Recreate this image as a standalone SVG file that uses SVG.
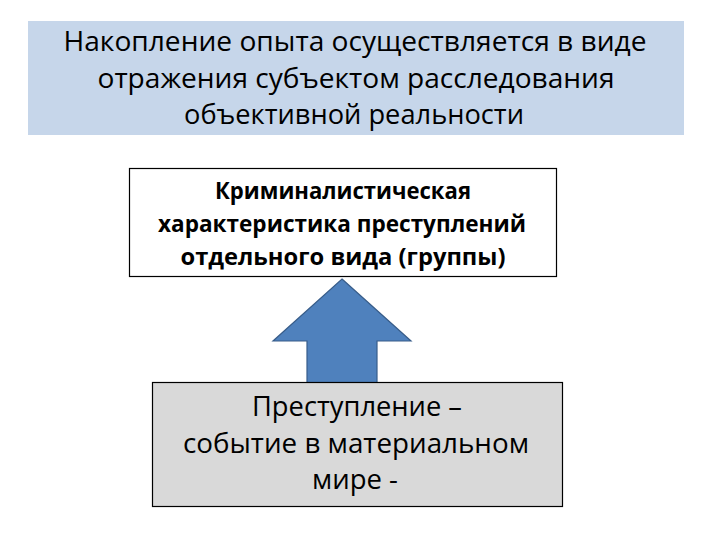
<svg xmlns="http://www.w3.org/2000/svg" width="720" height="540" viewBox="0 0 720 540">
<style>
text{font-family:"Open Sans","Noto Sans","DejaVu Sans",sans-serif;fill:#000;text-anchor:middle}
.t1{font-size:27.5px}
.t2{font-size:23.5px;font-weight:bold}
.t3{font-size:27.5px}
</style>
<rect width="720" height="540" fill="#fff"/>
<g id="top">
<rect x="28" y="21" width="656" height="114" fill="#c6d6ea"/>
<text class="t1" x="355" y="51" textLength="583" lengthAdjust="spacingAndGlyphs">Накопление опыта осуществляется  в виде</text>
<text class="t1" x="356" y="88" textLength="517" lengthAdjust="spacingAndGlyphs">отражения субъектом расследования</text>
<text class="t1" x="354" y="124" textLength="340" lengthAdjust="spacingAndGlyphs">объективной реальности</text>
</g>
<g id="connectors">
<polygon points="342,279 411,341 377,341 377,384 307,384 307,341 273,341" fill="#4f81bd" stroke="#385d8a" stroke-width="1.2"/>
</g>
<g id="middle">
<rect x="129.5" y="168.5" width="427" height="108" fill="#fff" stroke="#000" stroke-width="1.2"/>
<text class="t2" x="343" y="199" textLength="256" lengthAdjust="spacingAndGlyphs">Криминалистическая</text>
<text class="t2" x="342" y="232" textLength="368" lengthAdjust="spacingAndGlyphs">характеристика преступлений</text>
<text class="t2" x="343" y="265" textLength="325" lengthAdjust="spacingAndGlyphs">отдельного  вида (группы)</text>
</g>
<g id="bottom">
<rect x="152.5" y="382.5" width="410" height="124" fill="#d9d9d9" stroke="#000" stroke-width="1.2"/>
<text class="t3" x="357" y="416" textLength="210" lengthAdjust="spacingAndGlyphs">Преступление –</text>
<text class="t3" x="356" y="453" textLength="346" lengthAdjust="spacingAndGlyphs">событие в материальном</text>
<text class="t3" x="355" y="489">мире -</text>
</g>
</svg>
